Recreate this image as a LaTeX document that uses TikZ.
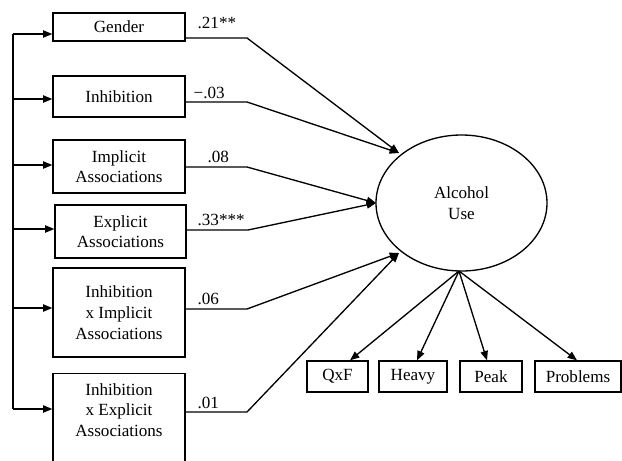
\documentclass[tikz,border=0pt]{standalone}
\usepackage{fontspec}
\setmainfont{Liberation Serif}
\usetikzlibrary{shapes.geometric,arrows.meta}
\begin{document}
\begin{tikzpicture}[x=0.75pt,y=-0.75pt,
  font=\fontsize{12.8}{15.5}\selectfont,
  line width=1pt,
  box/.style={draw,rectangle,inner sep=0pt,align=center,minimum width=99pt},
  obox/.style={draw,rectangle,inner sep=0pt,minimum height=23.25pt},
  arr/.style={-{Triangle[length=7pt,width=5.5pt]}},
  coef/.style={anchor=base west,inner sep=0pt}]
\useasboundingbox (0,0) rectangle (622,461);
\clip (0,0) rectangle (622,461);
% predictor boxes
\node[box,minimum height=21pt] (g) at (119,27) {Gender};
\node[box,minimum height=30.75pt] (ih) at (119,96.5) {Inhibition};
\node[box,minimum height=39.75pt] (im) at (119,166.5) {Implicit\\Associations};
\node[box,minimum height=39.75pt,minimum width=98.25pt] (ex) at (120.5,231.5) {Explicit\\Associations};
\node[box,minimum height=66.75pt] (ii) at (119,312.5) {Inhibition\\x Implicit\\Associations};
\node[box,minimum height=90pt,anchor=north] (ie) at (119,373) {};
\node[inner sep=0pt,align=center] (iet) at (119,410) {Inhibition\\x Explicit\\Associations};
% latent
\node[draw,ellipse,inner sep=0pt,minimum width=128.25pt,minimum height=102pt,align=center] (al) at (461.5,203) {Alcohol\\Use};
% outcome boxes
\node[obox,minimum width=45.75pt] (q) at (337.5,376.5) {QxF};
\node[obox,minimum width=51pt] (h) at (413,376.5) {Heavy};
\node[obox,minimum width=46.5pt] (p) at (491,376.5) {Peak};
\node[obox,minimum width=64.5pt] (pr) at (578,376.5) {Problems};
% bus
\coordinate (b1) at (13,34);
\coordinate (b2) at (13,99);
\coordinate (b3) at (13,165);
\coordinate (b4) at (13,229);
\coordinate (b5) at (13,308);
\coordinate (b6) at (13,409);
\draw (b1) -- (b6);
\draw[arr] (b1) -- (b1 -| g.west);
\draw[arr] (b2) -- (b2 -| ih.west);
\draw[arr] (b3) -- (b3 -| im.west);
\draw[arr] (b4) -- (b4 -| ex.west);
\draw[arr] (b5) -- (b5 -| ii.west);
\draw[arr] (b6) -- (b6 -| ie.west);
% paths to latent
\coordinate (k1) at (247,38);
\coordinate (k2) at (247,102);
\coordinate (k3) at (247,167);
\coordinate (k4) at (248,230);
\coordinate (k5) at (247,309);
\coordinate (k6) at (247,412);
\coordinate (t1) at (399,153);
\coordinate (t2) at (376,203);
\coordinate (t3) at (399,253);
\draw[arr] (k1 -| g.east) -- (k1) -- (t1);
\draw[arr] (k2 -| ih.east) -- (k2) -- (t1);
\draw[arr] (k3 -| im.east) -- (k3) -- (t2);
\draw[arr] (k4 -| ex.east) -- (k4) -- (t2);
\draw[arr] (k5 -| ii.east) -- (k5) -- (t3);
\draw[arr] (k6 -| ie.east) -- (k6) -- (t3);
% coefficients
\node[coef] (c1) at (197,28) {.21**};
\node[coef] (c2) at (193,98) {−.03};
\node[coef] (c3) at (207,162) {.08};
\node[coef] (c4) at (197,225) {.33***};
\node[coef] (c5) at (197,304) {.06};
\node[coef] (c6) at (197,408) {.01};
% indicators
\coordinate (o) at (459,271);
\draw[arr] (o) -- ([xshift=9.4pt]q.north);
\draw[arr] (o) -- ([xshift=3pt]h.north);
\draw[arr] (o) -- ([xshift=-3pt]p.north);
\draw[arr] (o) -- ([xshift=-0.75pt]pr.north);
\end{tikzpicture}
\end{document}
